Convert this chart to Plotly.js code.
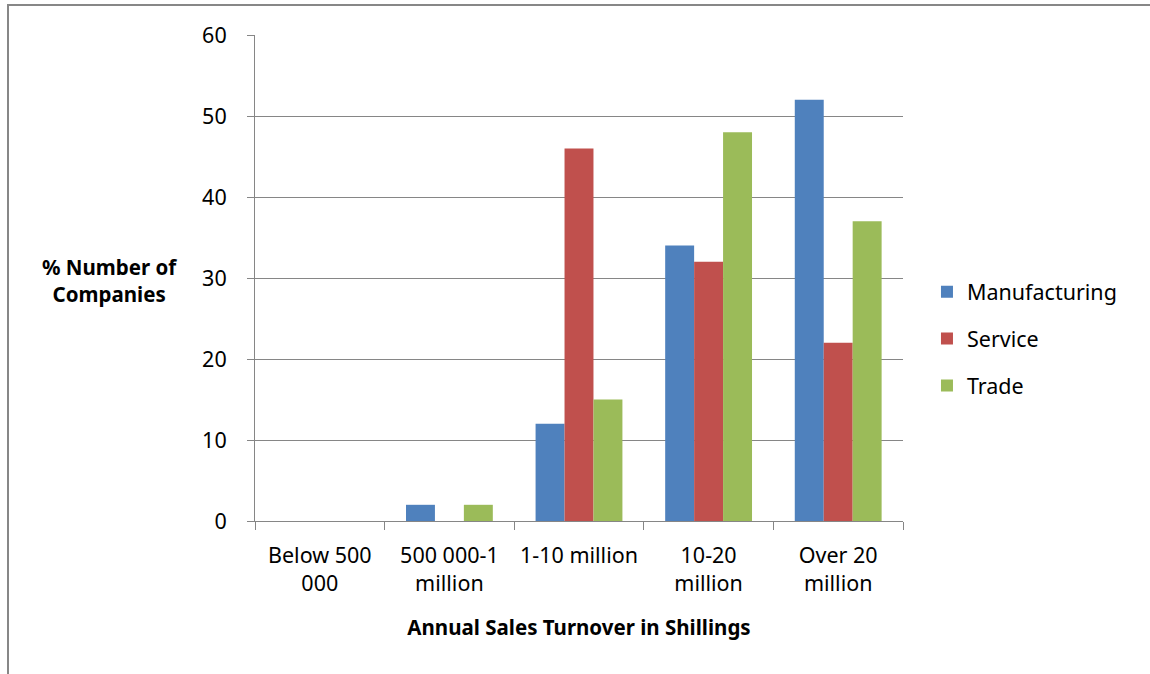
<!DOCTYPE html>
<html>
<head>
<meta charset="utf-8">
<script src="https://cdn.plot.ly/plotly-3.0.1.min.js"></script>
<style>
  html, body { margin: 0; padding: 0; background: #fff; }
  #wrap { position: relative; width: 1150px; height: 674px; overflow: hidden; }
  #frame { position: absolute; left: 7px; top: 4px; width: 1160px; height: 700px;
           border-top: 2px solid #878787; border-left: 2px solid #878787; box-sizing: border-box; pointer-events: none; }
  #chart { position: absolute; left: 0; top: 0; width: 1150px; height: 674px; }
</style>
</head>
<body>
<div id="wrap">
  <div id="chart"></div>
  <div id="frame"></div>
</div>
<script>
const categories = ["Below 500<br>000", "500 000-1<br>million", "1-10 million", "10-20<br>million", "Over 20<br>million"];
const manufacturing = [0, 2, 12, 34, 52];
const service = [0, 0, 46, 32, 22];
const trade = [0, 2, 15, 48, 37];
const seriesNames = ["Manufacturing", "Service", "Trade"];
const seriesColors = ["#4F81BD", "#C0504D", "#9BBB59"];

const FONT = "Noto Sans, Open Sans, sans-serif";
const FS = 21.5;
const values = [manufacturing, service, trade];
const traces = values.map((v, i) => ({
  type: "bar",
  name: seriesNames[i],
  x: categories,
  y: v,
  marker: { color: seriesColors[i], line: { width: 0 } },
  legendgroup: "g" + i,
  hoverinfo: "x+y+name"
}));

const layout = {
  width: 1150, height: 674,
  margin: { l: 255, r: 247, t: 35, b: 153 },
  paper_bgcolor: "rgba(0,0,0,0)",
  plot_bgcolor: "#fff",
  barmode: "group",
  bargap: 0.33,
  bargroupgap: 0,
  font: { family: FONT, size: FS, color: "#000" },
  xaxis: {
    type: "category",
    tickson: "boundaries",
    ticks: "outside", ticklen: 8, tickcolor: "#868686", tickwidth: 1,
    showline: true, linecolor: "#868686", linewidth: 1,
    showgrid: false,
    tickfont: { family: FONT, size: FS, color: "#000" },
    ticklabelstandoff: 15,
    title: { text: "<b>Annual Sales Turnover in Shillings</b>", font: { family: FONT, size: FS - 1, color: "#000" }, standoff: 24 },
    fixedrange: true
  },
  yaxis: {
    range: [0, 60], dtick: 10,
    ticks: "outside", ticklen: 7, tickcolor: "#868686", tickwidth: 1,
    showline: true, linecolor: "#868686", linewidth: 1,
    showgrid: true, gridcolor: "#868686", gridwidth: 1,
    zeroline: false,
    tickfont: { family: FONT, size: FS, color: "#000" },
    ticklabelstandoff: 16,
    fixedrange: true
  },
  legend: {
    x: 1.037, xanchor: "left", y: 0.514, yanchor: "top",
    font: { family: FONT, size: FS, color: "#000" },
    tracegroupgap: 16,
    itemclick: false, itemdoubleclick: false,
    bgcolor: "rgba(0,0,0,0)"
  },
  showlegend: true,
  annotations: [{
    text: "<b>% Number of<br>Companies</b>",
    xref: "paper", yref: "paper",
    x: -0.225, y: 0.495, xanchor: "center", yanchor: "middle",
    showarrow: false,
    font: { family: FONT, size: FS - 1, color: "#000" },
    align: "center"
  }]
};

Plotly.newPlot("chart", traces, layout, { displayModeBar: false, staticPlot: false });
</script>
</body>
</html>
